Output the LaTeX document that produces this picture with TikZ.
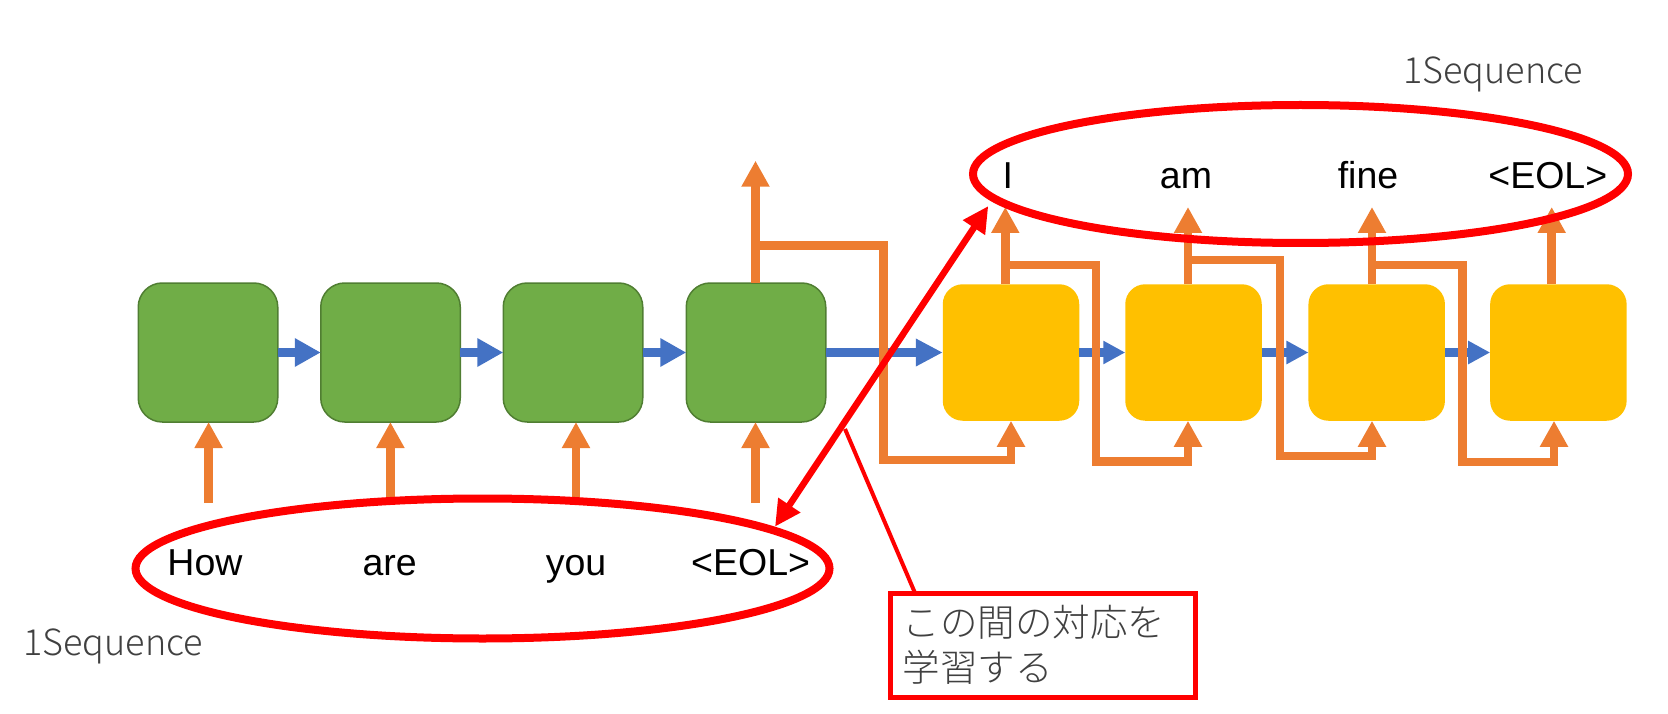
\documentclass[tikz,border=0pt]{standalone}
\usepackage{fontspec}
\setmainfont{Liberation Sans}
\IfFontExistsTF{Noto Sans CJK JP Light}{\newfontfamily\jpfont{Noto Sans CJK JP Light}}{\newfontfamily\jpfont{Noto Sans CJK JP}}
\usetikzlibrary{arrows.meta,shapes.geometric,calc}
\definecolor{cgreen}{HTML}{70AD47}
\definecolor{cgreenb}{HTML}{507E32}
\definecolor{cyellow}{HTML}{FFC000}
\definecolor{corange}{HTML}{ED7D31}
\definecolor{cblue}{HTML}{4472C4}
\definecolor{cred}{HTML}{FF0000}
\definecolor{cgray}{HTML}{404040}
\begin{document}
\begin{tikzpicture}[x=1pt,y=-1pt,
 encbox/.style={draw=cgreenb, line width=1.5pt, fill=cgreen, rounded corners=24pt, minimum width=139.5pt, minimum height=139pt, inner sep=0pt, outer sep=0pt},
 decbox/.style={fill=cyellow, rounded corners=20pt, minimum width=136.5pt, minimum height=136.5pt, inner sep=0pt, outer sep=0pt},
 blueA/.style={draw=cblue, line width=8.5pt, -{Triangle[length=26pt,width=27pt]}},
 blueS/.style={draw=cblue, line width=8.5pt, -{Triangle[length=22pt,width=22pt]}},
 orangeA/.style={draw=corange, line width=8.5pt, -{Triangle[length=26pt,width=26.5pt]}},
 word/.style={font=\fontsize{37.5}{45}\selectfont, anchor=base, inner sep=0pt},
 seqlabel/.style={font=\jpfont\fontsize{36}{43}\selectfont, text=cgray, anchor=base west, inner sep=0pt},
 ring/.style={draw=cred, line width=8pt, ellipse, inner sep=0pt, outer sep=0pt},
]
\useasboundingbox (0,0) rectangle (1668,714);

% encoder boxes
\node[encbox] (g1) at (208,352.5) {};
\node[encbox] (g2) at (390.5,352.5) {};
\node[encbox] (g3) at (573,352.5) {};
\node[encbox] (g4) at (756,352.5) {};
% decoder boxes
\node[decbox] (d1) at (1011,352.5) {};
\node[decbox] (d2) at (1193.5,352.5) {};
\node[decbox] (d3) at (1376.7,352.5) {};
\node[decbox] (d4) at (1558.4,352.5) {};

% blue recurrent arrows
\draw[blueA] (g1.east) -- (g2.west);
\draw[blueA] (g2.east) -- (g3.west);
\draw[blueA] (g3.east) -- (g4.west);
\draw[blueA, -{Triangle[length=27pt,width=26pt]}] (g4.east) -- (d1.west);
\draw[blueS] (d1.east) -- (d2.west);
\draw[blueS] (d2.east) -- (d3.west);
\draw[blueS] (d3.east) -- (d4.west);

% inputs to encoder
\coordinate (x1) at (208.6,503);
\coordinate (x2) at (390.4,500);
\coordinate (x3) at (576,500);
\coordinate (x4) at (755.5,503);
\draw[orangeA] (x1) -- (x1 |- g1.south);
\draw[orangeA] (x2) -- (x2 |- g2.south);
\draw[orangeA] (x3) -- (x3 |- g3.south);
\draw[orangeA] (x4) -- (x4 |- g4.south);

% encoder output
\coordinate (o0) at (755.5,160.7);
\draw[orangeA] (o0 |- g4.north) -- (o0);
\coordinate (s0) at (755.5,245.5);
\draw[orangeA] (s0) -- (883.5,245.5) -- (883.5,460) -- (1011,460) -- (d1.south);

% decoder outputs
\coordinate (t1) at (1005.3,207);
\coordinate (t2) at (1188,207);
\coordinate (t3) at (1372,207);
\coordinate (t4) at (1551.7,207);
\draw[orangeA] (t1 |- d1.north) -- (t1);
\draw[orangeA] (t2 |- d2.north) -- (t2);
\draw[orangeA] (t3 |- d3.north) -- (t3);
\draw[orangeA] (t4 |- d4.north) -- (t4);

% feedback of outputs to next inputs
\coordinate (s1) at (1005.3,264.8);
\coordinate (s2) at (1188,259.8);
\coordinate (s3) at (1372,265);
\coordinate (u4) at (1554,461.8);
\draw[orangeA] (s1) -- (1096.2,264.8) -- (1096.2,461.3) -- (1188,461.3) -- (t2 |- d2.south);
\draw[orangeA] (s2) -- (1279.8,259.8) -- (1279.8,456) -- (1372,456) -- (t3 |- d3.south);
\draw[orangeA] (s3) -- (1462.5,265) -- (1462.5,461.8) -- (u4) -- (u4 |- d4.south);

% ellipses
\node[ring, minimum width=694pt, minimum height=140pt] (inEll) at (482.5,568.5) {};
\node[ring, minimum width=655pt, minimum height=138pt] (outEll) at (1300.5,174) {};

% double arrow
\coordinate (pa) at (775,526.7);
\coordinate (pb) at (988.3,206);
\draw[cred, line width=6.5pt, {Triangle[length=26pt,width=25pt]}-{Triangle[length=26pt,width=25pt]}] (pa) -- (pb);

% annotation box
\node[draw=cred, line width=5pt, minimum width=305.5pt, minimum height=104.5pt, text width=280pt, inner xsep=12.75pt, inner ysep=0pt, outer sep=0pt, align=left, font=\jpfont\fontsize{37.5}{45}\selectfont, text=cgray] (jbox) at (1042.75,645.25) {この間の対応を\\学習する};
\coordinate (jl) at (845,429);
\draw[cred, line width=4pt] (jl) -- ($(jbox.north west)+(25,0)$);

% words
\node[word] (wHow) at (205,575) {How};
\node[word] (wAre) at (389.6,575) {are};
\node[word] (wYou) at (576,575) {you};
\node[word] (wEolIn) at (750.6,575) {<EOL>};
\node[word] (wI) at (1007.8,188.3) {I};
\node[word] (wAm) at (1186,188.3) {am};
\node[word] (wFine) at (1368,188.3) {fine};
\node[word] (wEolOut) at (1547.8,188.3) {<EOL>};

% labels
\node[seqlabel] (seqTop) at (1403,84) {1Sequence};
\node[seqlabel] (seqBot) at (23,655) {1Sequence};
\end{tikzpicture}
\end{document}
